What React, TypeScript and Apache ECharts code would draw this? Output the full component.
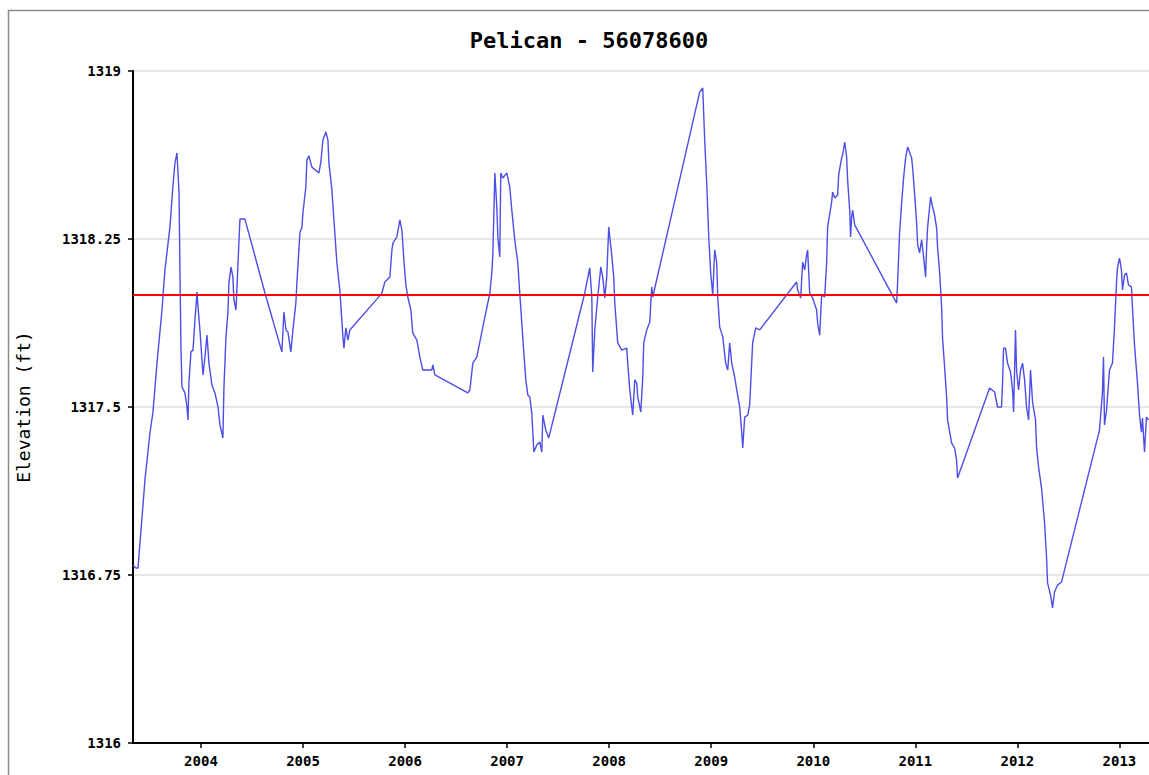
import React, { useEffect, useRef } from "react";
import * as echarts from "echarts";

const TITLE = "Pelican - 56078600";
const Y_NAME = "Elevation (ft)";
const REFERENCE_LEVEL = 1318.0;
const X_LABEL_YEARS = [2004, 2005, 2006, 2007, 2008, 2009, 2010, 2011, 2012, 2013];
const X_MIN = 2003.334;
const X_MAX = 2013.29;
const Y_MIN = 1316;
const Y_MAX = 1319;
const Y_STEP = 0.75;

// time in decimal years
const years = [
  2003.334, 2003.363, 2003.383, 2003.393, 2003.452, 2003.5, 2003.53, 2003.569, 2003.618, 2003.647,
  2003.696, 2003.726, 2003.745, 2003.765, 2003.785, 2003.794, 2003.804, 2003.814, 2003.843, 2003.863,
  2003.873, 2003.882, 2003.902, 2003.922, 2003.941, 2003.961, 2003.971, 2003.99, 2004.01, 2004.02,
  2004.039, 2004.059, 2004.078, 2004.108, 2004.137, 2004.167, 2004.186, 2004.215, 2004.225, 2004.245,
  2004.264, 2004.274, 2004.294, 2004.313, 2004.323, 2004.343, 2004.353, 2004.372, 2004.382, 2004.431,
  2004.627, 2004.793, 2004.813, 2004.833, 2004.852, 2004.881, 2004.901, 2004.93, 2004.94, 2004.97,
  2004.989, 2004.999, 2005.028, 2005.038, 2005.058, 2005.087, 2005.156, 2005.175, 2005.195, 2005.224,
  2005.244, 2005.254, 2005.283, 2005.303, 2005.332, 2005.361, 2005.391, 2005.401, 2005.42, 2005.44,
  2005.459, 2005.734, 2005.773, 2005.802, 2005.851, 2005.871, 2005.881, 2005.92, 2005.949, 2005.969,
  2005.988, 2006.008, 2006.027, 2006.057, 2006.076, 2006.116, 2006.145, 2006.174, 2006.262, 2006.272,
  2006.292, 2006.615, 2006.635, 2006.664, 2006.703, 2006.762, 2006.831, 2006.85, 2006.86, 2006.88,
  2006.899, 2006.909, 2006.928, 2006.938, 2006.958, 2006.997, 2007.026, 2007.046, 2007.075, 2007.105,
  2007.124, 2007.144, 2007.164, 2007.183, 2007.203, 2007.222, 2007.242, 2007.262, 2007.291, 2007.32,
  2007.34, 2007.35, 2007.379, 2007.408, 2007.761, 2007.81, 2007.83, 2007.839, 2007.859, 2007.888,
  2007.918, 2007.937, 2007.957, 2007.976, 2007.996, 2008.006, 2008.025, 2008.045, 2008.055, 2008.084,
  2008.123, 2008.172, 2008.182, 2008.202, 2008.231, 2008.251, 2008.27, 2008.28, 2008.31, 2008.329,
  2008.339, 2008.368, 2008.398, 2008.417, 2008.427, 2008.887, 2008.917, 2008.936, 2008.956, 2008.976,
  2008.995, 2009.015, 2009.034, 2009.054, 2009.064, 2009.083, 2009.113, 2009.142, 2009.162, 2009.181,
  2009.201, 2009.23, 2009.25, 2009.279, 2009.299, 2009.309, 2009.328, 2009.358, 2009.377, 2009.406,
  2009.436, 2009.475, 2009.837, 2009.847, 2009.877, 2009.896, 2009.916, 2009.935, 2009.945, 2009.965,
  2009.994, 2010.033, 2010.043, 2010.063, 2010.082, 2010.112, 2010.131, 2010.141, 2010.18, 2010.19,
  2010.21, 2010.239, 2010.249, 2010.278, 2010.288, 2010.308, 2010.327, 2010.337, 2010.357, 2010.366,
  2010.376, 2010.386, 2010.406, 2010.817, 2010.827, 2010.846, 2010.866, 2010.885, 2010.905, 2010.925,
  2010.964, 2010.974, 2010.993, 2011.013, 2011.023, 2011.042, 2011.062, 2011.081, 2011.101, 2011.111,
  2011.12, 2011.15, 2011.169, 2011.189, 2011.209, 2011.218, 2011.238, 2011.258, 2011.267, 2011.287,
  2011.307, 2011.316, 2011.356, 2011.385, 2011.404, 2011.414, 2011.728, 2011.777, 2011.806, 2011.845,
  2011.855, 2011.865, 2011.884, 2011.904, 2011.933, 2011.953, 2011.963, 2011.982, 2011.992, 2012.012,
  2012.031, 2012.051, 2012.071, 2012.09, 2012.11, 2012.129, 2012.149, 2012.178, 2012.188, 2012.208,
  2012.237, 2012.266, 2012.286, 2012.296, 2012.325, 2012.345, 2012.364, 2012.394, 2012.433, 2012.805,
  2012.834, 2012.844, 2012.854, 2012.874, 2012.903, 2012.932, 2012.952, 2012.972, 2012.981, 2013.001,
  2013.02, 2013.03, 2013.05, 2013.069, 2013.089, 2013.118, 2013.128, 2013.148, 2013.177, 2013.197,
  2013.216, 2013.226, 2013.246, 2013.265, 2013.285,
];

// elevation in feet
const elevations = [
  1316.795, 1316.781, 1316.781, 1316.839, 1317.179, 1317.384, 1317.478, 1317.696, 1317.933, 1318.112,
  1318.304, 1318.491, 1318.589, 1318.634, 1318.455, 1318.112, 1317.763, 1317.589, 1317.563, 1317.5,
  1317.442, 1317.607, 1317.746, 1317.754, 1317.888, 1318.013, 1317.946, 1317.844, 1317.71, 1317.643,
  1317.723, 1317.821, 1317.696, 1317.598, 1317.563, 1317.5, 1317.42, 1317.362, 1317.585, 1317.813,
  1317.92, 1318.054, 1318.125, 1318.08, 1317.978, 1317.933, 1318.036, 1318.237, 1318.339, 1318.339,
  1318.009, 1317.746, 1317.924, 1317.844, 1317.835, 1317.746, 1317.844, 1317.964, 1318.054, 1318.281,
  1318.299, 1318.366, 1318.482, 1318.603, 1318.621, 1318.571, 1318.545, 1318.594, 1318.692, 1318.728,
  1318.692, 1318.589, 1318.469, 1318.335, 1318.143, 1318.022, 1317.813, 1317.763, 1317.853, 1317.799,
  1317.844, 1317.987, 1318.009, 1318.058, 1318.08, 1318.201, 1318.232, 1318.259, 1318.335, 1318.29,
  1318.156, 1318.045, 1317.991, 1317.933, 1317.83, 1317.799, 1317.723, 1317.665, 1317.665, 1317.688,
  1317.643, 1317.563, 1317.576, 1317.696, 1317.723, 1317.857, 1318.009, 1318.098, 1318.179, 1318.545,
  1318.393, 1318.259, 1318.17, 1318.545, 1318.522, 1318.545, 1318.482, 1318.379, 1318.246, 1318.143,
  1318.009, 1317.875, 1317.741, 1317.621, 1317.554, 1317.545, 1317.473, 1317.299, 1317.33, 1317.344,
  1317.299, 1317.464, 1317.397, 1317.362, 1318.009, 1318.121, 1317.991, 1317.656, 1317.844, 1317.991,
  1318.125, 1318.08, 1317.987, 1318.08, 1318.304, 1318.259, 1318.179, 1318.08, 1317.964, 1317.786,
  1317.754, 1317.763, 1317.696, 1317.576, 1317.464, 1317.621, 1317.607, 1317.545, 1317.478, 1317.629,
  1317.786, 1317.844, 1317.879, 1318.036, 1317.991, 1318.906, 1318.924, 1318.692, 1318.5, 1318.259,
  1318.098, 1318.0, 1318.201, 1318.143, 1317.991, 1317.857, 1317.813, 1317.696, 1317.665, 1317.786,
  1317.696, 1317.634, 1317.576, 1317.5, 1317.388, 1317.317, 1317.455, 1317.464, 1317.509, 1317.786,
  1317.853, 1317.844, 1318.058, 1318.022, 1317.987, 1318.147, 1318.112, 1318.179, 1318.201, 1318.009,
  1317.987, 1317.933, 1317.875, 1317.821, 1318.0, 1317.991, 1318.143, 1318.304, 1318.415, 1318.46,
  1318.433, 1318.446, 1318.536, 1318.612, 1318.625, 1318.683, 1318.616, 1318.513, 1318.379, 1318.259,
  1318.348, 1318.379, 1318.313, 1317.964, 1318.058, 1318.277, 1318.411, 1318.522, 1318.612, 1318.661,
  1318.612, 1318.567, 1318.455, 1318.321, 1318.223, 1318.188, 1318.246, 1318.17, 1318.08, 1318.214,
  1318.299, 1318.438, 1318.393, 1318.357, 1318.299, 1318.214, 1318.103, 1317.946, 1317.808, 1317.679,
  1317.545, 1317.442, 1317.339, 1317.317, 1317.263, 1317.183, 1317.585, 1317.567, 1317.5, 1317.5,
  1317.607, 1317.763, 1317.763, 1317.696, 1317.656, 1317.576, 1317.478, 1317.844, 1317.665, 1317.576,
  1317.665, 1317.696, 1317.621, 1317.5, 1317.442, 1317.665, 1317.522, 1317.442, 1317.321, 1317.232,
  1317.138, 1316.987, 1316.83, 1316.714, 1316.661, 1316.603, 1316.674, 1316.705, 1316.719, 1317.397,
  1317.567, 1317.723, 1317.42, 1317.487, 1317.665, 1317.696, 1317.857, 1318.058, 1318.121, 1318.165,
  1318.112, 1318.022, 1318.089, 1318.098, 1318.045, 1318.036, 1317.942, 1317.777, 1317.607, 1317.464,
  1317.388, 1317.451, 1317.299, 1317.455, 1317.442,
];

const MONO = "'DejaVu Sans Mono', 'Liberation Mono', monospace";

export default function App() {
  const ref = useRef<HTMLDivElement>(null);

  useEffect(() => {
    if (!ref.current) return;
    const chart = echarts.init(ref.current, undefined, { renderer: "svg" });
    const data = years.map((y, i) => [y, elevations[i]]);

    chart.setOption({
      animation: false,
      backgroundColor: "#ffffff",
      title: {
        text: TITLE,
        left: 584,
        top: 24,
        textAlign: "center",
        textStyle: {
          fontFamily: MONO,
          fontWeight: "bold",
          fontSize: 22,
          color: "#000000",
        },
      },
      graphic: [
        {
          type: "rect",
          shape: { x: 8.5, y: 10.5, width: 1300, height: 800 },
          style: { fill: "none", stroke: "#8a8a8a", lineWidth: 1.5 },
          silent: true,
          z: -1,
        },
      ],
      grid: { left: 133, top: 71, right: 0, bottom: 32, containLabel: false },
      xAxis: {
        type: "value",
        min: X_MIN,
        max: X_MAX,
        axisLine: { show: true, lineStyle: { color: "#000000", width: 2 } },
        axisTick: {
          show: true,
          length: 5,
          customValues: X_LABEL_YEARS,
          lineStyle: { color: "#000000", width: 1.5 },
        },
        axisLabel: {
          customValues: X_LABEL_YEARS,
          formatter: (v: number) => String(Math.round(v)),
          fontFamily: MONO,
          fontWeight: "bold",
          fontSize: 14,
          color: "#000000",
          margin: 11,
        },
        splitLine: { show: false },
      },
      yAxis: {
        type: "value",
        min: Y_MIN,
        max: Y_MAX,
        interval: Y_STEP,
        name: Y_NAME,
        nameLocation: "middle",
        nameGap: 101,
        nameTextStyle: {
          fontFamily: MONO,
          fontSize: 18,
          color: "#000000",
        },
        axisLine: { show: true, lineStyle: { color: "#000000", width: 2 } },
        axisTick: { show: true, length: 5, lineStyle: { color: "#000000", width: 1.5 } },
        axisLabel: {
          formatter: (v: number) => String(parseFloat(v.toFixed(2))),
          fontFamily: MONO,
          fontWeight: "bold",
          fontSize: 14,
          color: "#000000",
          margin: 12,
        },
        splitLine: { show: true, lineStyle: { color: "#e6e6e6", width: 2 } },
      },
      series: [
        {
          type: "line",
          data,
          showSymbol: false,
          symbol: "none",
          lineStyle: { color: "#4d4de8", width: 1.4 },
          z: 3,
          markLine: {
            silent: true,
            symbol: "none",
            label: { show: false },
            lineStyle: { color: "#ff0000", width: 2, type: "solid" },
            data: [{ yAxis: REFERENCE_LEVEL }],
            z: 4,
          },
        },
      ],
    });

    return () => chart.dispose();
  }, []);

  return (
    <div
      ref={ref}
      style={{ position: "fixed", left: 0, top: 0, width: 1149, height: 775 }}
    />
  );
}
